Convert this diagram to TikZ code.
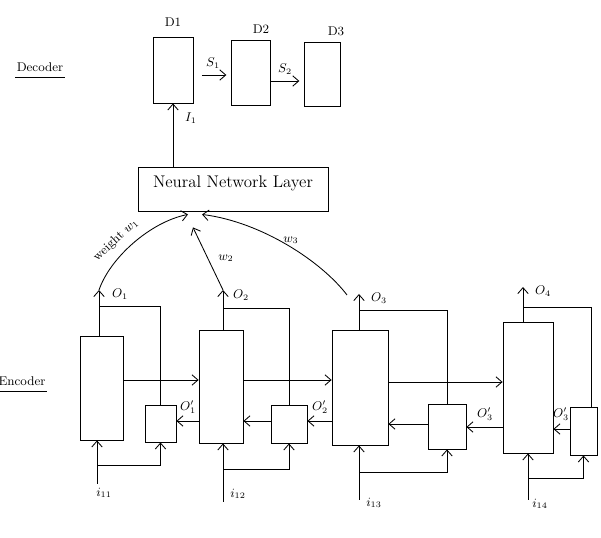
\documentclass[tikz,border=0pt]{standalone}
\usepackage{tikz}
\usetikzlibrary{arrows.meta,positioning,fit,calc}
\tikzset{
  blk/.style={draw=black, line width=0.6pt, inner sep=0pt},
  nnlayer/.style={draw=black, line width=0.6pt, inner sep=0pt, font=\large},
  flow/.style={-{Straight Barb[length=1.5mm,width=2.6mm]}, line width=0.6pt},
  wire/.style={line width=0.6pt},
  lab/.style={font=\small, inner sep=1pt},
  title/.style={font=\small, inner sep=1pt}
}

\begin{document}
\begin{tikzpicture}[x=0.025cm, y=-0.025cm]
\useasboundingbox (0,0) rectangle (601,538);

% decoder side
\node[title] (declab) at (40,67) {Decoder};
\draw[wire] ([yshift=-3pt]declab.south west) -- ([yshift=-3pt]declab.south east);
\node[blk, fit={(153,37) (193,103)}] (d1) {};
\node[blk, fit={(231,40) (270,105)}] (d2) {};
\node[blk, fit={(304,42) (340,106)}] (d3) {};
\node[lab] (d1lab) at (173,22) {D1};
\node[lab] (d2lab) at (261,29) {D2};
\node[lab] (d3lab) at (336,31) {D3};
\draw[flow, shorten <=6pt, shorten >=3pt] (d1.east |- 0,75) -- (d2.west |- 0,75);
\node[lab] (s1lab) at (213,63) {$S_1$};
\draw[flow, shorten >=3pt] (d2.east |- 0,81) -- (d3.west |- 0,81);
\node[lab] (s2lab) at (285,69) {$S_2$};

\node[nnlayer, fit={(138,167) (328,211)}] (nn) {Neural Network Layer};
\draw[flow] (d1 |- nn.north) -- (d1.south);
\node[lab] (i1lab) at (191,118) {$I_1$};

% encoder side
\node[title] (enclab) at (22,381) {Encoder};
\draw[wire] ([yshift=-3pt]enclab.south west) -- ([yshift=-3pt]enclab.south east);
\node[blk, fit={(80,336) (123,440)}] (e1) {};
\node[blk, fit={(145,405) (176,442)}] (c1) {};
\node[blk, fit={(199,330) (243,443)}] (e2) {};
\node[blk, fit={(271,405) (307,443)}] (c2) {};
\node[blk, fit={(332,330) (388,445)}] (e3) {};
\node[blk, fit={(428,404) (466,449)}] (c3) {};
\node[blk, fit={(503,322) (553,453)}] (e4) {};
\node[blk, fit={(570,407) (597,455)}] (c4) {};

\coordinate (o1) at (99,290);
\coordinate (o2) at (223,290);
\coordinate (o3) at (359,294);
\coordinate (o4) at (523,287);
\draw[flow] (o1 |- e1.north) -- (o1);
\draw[flow] (o2 |- e2.north) -- (o2);
\draw[flow] (o3 |- e3.north) -- (o3);
\draw[flow] (o4 |- e4.north) -- (o4);
\node[lab] (o1lab) at (120,294) {$O_1$};
\node[lab] (o2lab) at (241,295) {$O_2$};
\node[lab] (o3lab) at (379,298) {$O_3$};
\node[lab] (o4lab) at (543,291) {$O_4$};
\draw[wire] (o1 |- 0,306) -| (c1.north);
\draw[wire] (o2 |- 0,308) -| (c2.north);
\draw[wire] (o3 |- 0,310) -| (c3.north);
\draw[wire] (o4 |- 0,307) -| ([xshift=0.2cm]c4.north);

\draw[flow] (e1.east |- 0,380) -- (e2.west |- 0,380);
\draw[flow] (e2.east |- 0,380) -- (e3.west |- 0,380);
\draw[flow] (e3.east |- 0,382) -- (e4.west |- 0,382);

\draw[flow] (e2.west |- 0,421) -- (c1.east |- 0,421);
\draw[flow] (c2.west |- 0,421) -- (e2.east |- 0,421);
\draw[flow] (e3.west |- 0,421) -- (c2.east |- 0,421);
\draw[flow] (c3.west |- 0,424) -- (e3.east |- 0,424);
\draw[flow] (e4.west |- 0,427) -- (c3.east |- 0,427);
\draw[flow] (c4.west |- 0,429) -- (e4.east |- 0,429);
\node[lab] (p1lab) at (188,407) {$O_1'$};
\node[lab] (p2lab) at (320,407) {$O_2'$};
\node[lab] (p3lab) at (485,414) {$O_3'$};
\node[lab] (p4lab) at (561,414) {$O_3'$};

\coordinate (in1) at (97,484);
\coordinate (in2) at (223,502);
\coordinate (in3) at (359,500);
\coordinate (in4) at (528,500);
\draw[flow] (in1) -- (in1 |- e1.south);
\draw[flow] (in2) -- (in2 |- e2.south);
\draw[flow] (in3) -- (in3 |- e3.south);
\draw[flow] (in4) -- (in4 |- e4.south);
\draw[flow] (in1 |- 0,465) -| (c1.south);
\draw[flow] (in2 |- 0,469) -| (c2.south);
\draw[flow] (in3 |- 0,472) -| (c3.south);
\draw[flow] (in4 |- 0,478) -| (c4.south);
\node[lab] (in1lab) at (104,493) {$i_{11}$};
\node[lab] (in2lab) at (238,494) {$i_{12}$};
\node[lab] (in3lab) at (374,503) {$i_{13}$};
\node[lab] (in4lab) at (540,504) {$i_{14}$};

% weights into the layer
\draw[flow] (o1) .. controls (110,258) and (150,222) .. ($(nn.south)+(-45,3)$);
\node[lab, rotate=43] (w1lab) at (116,240) {weight $w_1$};
\draw[flow] (o2) -- ($(nn.south)+(-40,16)$);
\node[lab] (w2lab) at (226,258) {$w_2$};
\draw[flow] ($(o3)+(-12,1)$) .. controls (322,262) and (262,222) .. ($(nn.south)+(-31,3)$);
\node[lab] (w3lab) at (291,240) {$w_3$};
\end{tikzpicture}
\end{document}
